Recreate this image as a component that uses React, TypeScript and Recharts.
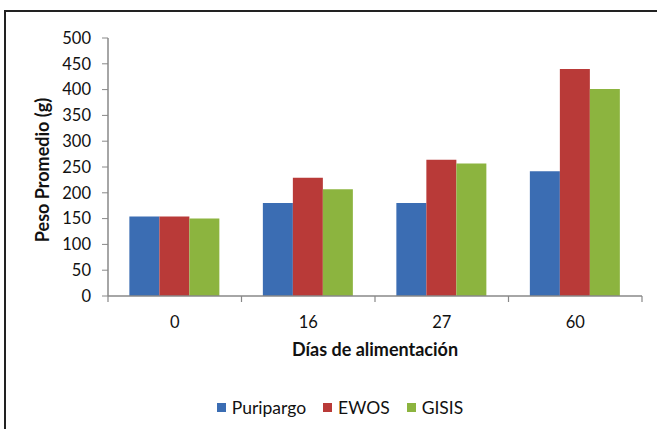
import React from "react";
import { BarChart, Bar, XAxis, YAxis, Legend, Label } from "recharts";

const categories = ["0", "16", "27", "60"];
const puripargo = [154, 180, 180, 242];
const ewos = [154, 229, 264, 440];
const gisis = [150, 207, 257, 401];
const yTicks = [0, 50, 100, 150, 200, 250, 300, 350, 400, 450, 500];

const seriesNames = ["Puripargo", "EWOS", "GISIS"];
const colors = ["#3b6db3", "#b93a38", "#8cb43f"];

const data = categories.map((c, i) => ({
  cat: c,
  Puripargo: puripargo[i],
  EWOS: ewos[i],
  GISIS: gisis[i],
}));

const FONT = "Lato, 'Open Sans', sans-serif";
const TICK_GAP = 20;

const XTick = (props: any) => {
  const { x, y, payload, width, visibleTicksCount } = props;
  const off = payload && payload.offset ? payload.offset : width / (visibleTicksCount || categories.length) / 2;
  const axisY = y - TICK_GAP;
  const last = payload.index === categories.length - 1 || props.index === categories.length - 1;
  return (
    <g>
      <line x1={x - off} x2={x - off} y1={axisY} y2={axisY + 6} stroke="#888" strokeWidth={1.2} />
      {last && <line x1={x + off} x2={x + off} y1={axisY} y2={axisY + 6} stroke="#888" strokeWidth={1.2} />}
      <text x={x} y={y} dy="0.71em" textAnchor="middle" fontFamily={FONT} fontSize={16.5} fill="#111">
        {payload.value}
      </text>
    </g>
  );
};

const LegendContent = () => (
  <div
    style={{
      display: "flex",
      justifyContent: "center",
      alignItems: "center",
      fontFamily: FONT,
      fontSize: 17.5,
      color: "#111",
    }}
  >
    {seriesNames.map((n, i) => (
      <div key={n} style={{ display: "flex", alignItems: "center", marginRight: i < 2 ? 17 : 0 }}>
        <div style={{ width: 9, height: 9, background: colors[i], marginRight: 6 }} />
        <span>{n}</span>
      </div>
    ))}
  </div>
);

export default function App() {
  return (
    <div style={{ position: "absolute", left: 0, top: 0, width: 657, height: 429, background: "#fff", overflow: "hidden" }}>
      <div
        style={{
          position: "absolute",
          left: 4,
          top: 10,
          width: 700,
          height: 500,
          borderLeft: "2px solid #222",
          borderTop: "2px solid #222",
        }}
      />
      <div style={{ position: "absolute", left: 0, top: 0 }}>
        <BarChart
          width={657}
          height={429}
          data={data}
          margin={{ top: 38, right: 15, bottom: 43, left: 0 }}
          barCategoryGap="16%"
          barGap={0}
        >
          <XAxis
            dataKey="cat"
            axisLine={{ stroke: "#888", strokeWidth: 1.5 }}
            tickLine={false}
            tickSize={5}
            tickMargin={15}
            height={70}
            interval={0}
            tick={<XTick />}
          >
            <Label
              value="Días de alimentación"
              position="insideBottom"
              offset={10}
              style={{ fontFamily: FONT, fontSize: 18, fontWeight: 700, fill: "#111" }}
            />
          </XAxis>
          <YAxis
            domain={[0, 500]}
            ticks={yTicks}
            width={108}
            axisLine={{ stroke: "#888", strokeWidth: 1.5 }}
            tickLine={{ stroke: "#888" }}
            tickSize={6}
            tickMargin={11}
            interval={0}
            tick={{ fontFamily: FONT, fontSize: 16.5, fill: "#111" }}
          >
            <Label
              value="Peso Promedio (g)"
              angle={-90}
              position="center"
              dx={-11}
              dy={3}
              style={{ fontFamily: FONT, fontSize: 18, fontWeight: 700, fill: "#111", textAnchor: "middle" }}
            />
          </YAxis>
          <Legend
            content={<LegendContent />}
            wrapperStyle={{ position: "absolute", top: 397, left: 0, width: 680, height: 20 }}
          />
          {seriesNames.map((n, i) => (
            <Bar key={n} dataKey={n} fill={colors[i]} isAnimationActive={false} />
          ))}
        </BarChart>
      </div>
    </div>
  );
}
